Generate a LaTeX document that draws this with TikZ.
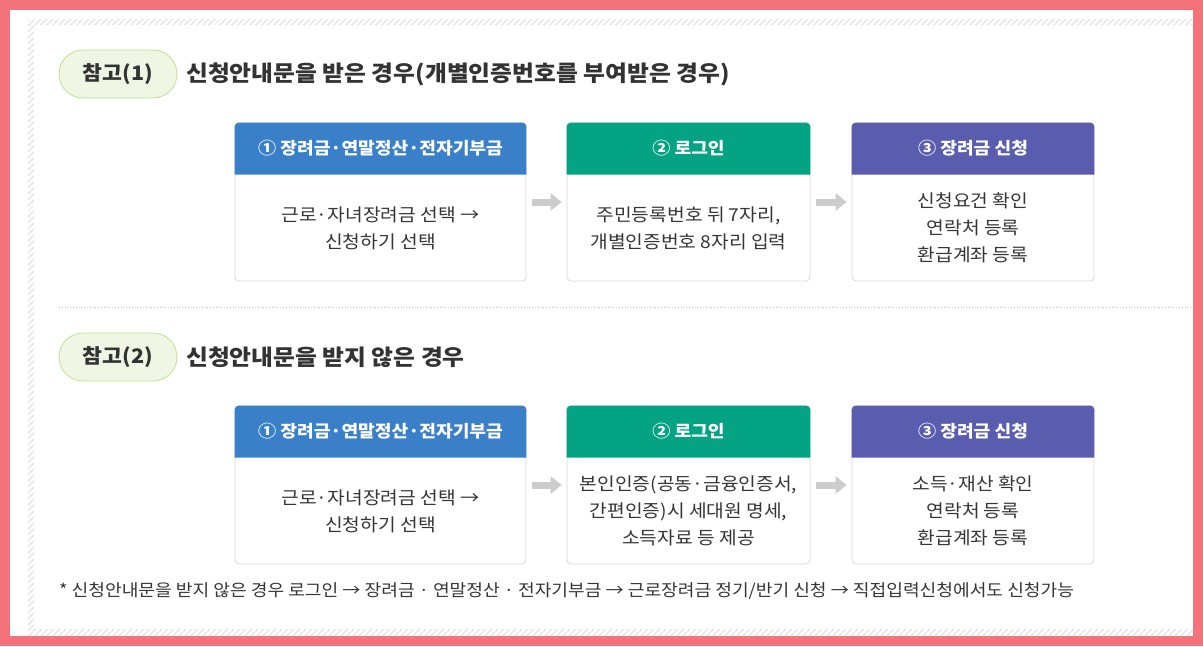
\documentclass[tikz,border=0pt]{standalone}
\usepackage{fontspec}
\setmainfont{Noto Sans CJK KR}[FakeStretch=1.08]
\usetikzlibrary{arrows.meta,patterns.meta}
\definecolor{framepink}{HTML}{F4737A}
\definecolor{hatchgray}{HTML}{DCE0E8}
\definecolor{pillfill}{HTML}{EFF6E4}
\definecolor{pillline}{HTML}{BFE38F}
\definecolor{hdblue}{HTML}{3A80C8}
\definecolor{hdgreen}{HTML}{04A383}
\definecolor{hdpurple}{HTML}{5A5DAE}
\definecolor{inkdark}{HTML}{333333}
\definecolor{inkbody}{HTML}{363636}
\definecolor{flowgray}{HTML}{CCCCCC}
\begin{document}
\begin{tikzpicture}[x=1pt,y=-1pt,
  pill/.style={draw=pillline,fill=pillfill,line width=0.8pt,rounded corners=24pt,
    minimum width=118pt,minimum height=48pt,text=inkdark,
    font=\fontsize{20}{24}\selectfont\bfseries},
  heading/.style={anchor=west,inner sep=0pt,text=inkdark,
    font=\fontsize{22}{26}\selectfont\bfseries},
  card/.style={draw=black!15,fill=white,rounded corners=4pt,line width=0.8pt},
  hdtext/.style={text=white,font=\fontsize{16.8}{20}\selectfont\bfseries},
  bodytext/.style={text=inkbody,align=center,font=\fontsize{17.8}{27}\selectfont},
  flow/.style={flowgray,line width=7pt,-{Triangle[length=11pt,width=17pt]},
    shorten <=6pt,shorten >=5pt}]
\useasboundingbox (0,0) rectangle (1203,646);
\fill[framepink] (0,0) rectangle (1203,646);
\fill[white] (10,10) rectangle (1193,636);
% hatched frame
\fill[pattern={Lines[angle=45,distance=4pt,line width=1.6pt]},pattern color=hatchgray]
  (28,19) rectangle (1193,25) (28,25) rectangle (34,629) (28,629) rectangle (1193,636);

% case 1
\node[pill] (p1) at (118,74) {참고(1)};
\node[heading] (t1) at (186,74) {신청안내문을 받은 경우(개별인증번호를 부여받은 경우)};
\node[card,minimum width=291pt,minimum height=158pt] (a1) at (380.5,202) {};
\node[card,minimum width=243pt,minimum height=158pt] (a2) at (688.5,202) {};
\node[card,minimum width=242pt,minimum height=158pt] (a3) at (973,202) {};

\draw[black!25,dotted,line width=0.8pt] (59,307) -- (1193,307);

% case 2
\node[pill] (p2) at (118,357) {참고(2)};
\node[heading] (t2) at (186,357) {신청안내문을 받지 않은 경우};
\node[card,minimum width=291pt,minimum height=158pt] (b1) at (380.5,485) {};
\node[card,minimum width=243pt,minimum height=158pt] (b2) at (688.5,485) {};
\node[card,minimum width=242pt,minimum height=158pt] (b3) at (973,485) {};

\foreach \b/\c in {a1/hdblue,a2/hdgreen,a3/hdpurple,b1/hdblue,b2/hdgreen,b3/hdpurple}
  \fill[\c] ([yshift=-52pt]\b.north west) [rounded corners=4pt] -- (\b.north west)
    -- (\b.north east) [sharp corners] -- ([yshift=-52pt]\b.north east) -- cycle;

\node[hdtext] (a1h) at ([yshift=-26pt]a1.north) {① 장려금·연말정산·전자기부금};
\node[hdtext] (a2h) at ([yshift=-26pt]a2.north) {② 로그인};
\node[hdtext] (a3h) at ([yshift=-26pt]a3.north) {③ 장려금 신청};
\node[bodytext] (a1t) at ([yshift=-26pt]a1.center) {근로·자녀장려금 선택 →\\신청하기 선택};
\node[bodytext] (a2t) at ([yshift=-26pt]a2.center) {주민등록번호 뒤 7자리,\\개별인증번호 8자리 입력};
\node[bodytext] (a3t) at ([yshift=-26pt]a3.center) {신청요건 확인\\연락처 등록\\환급계좌 등록};

\node[hdtext] (b1h) at ([yshift=-26pt]b1.north) {① 장려금·연말정산·전자기부금};
\node[hdtext] (b2h) at ([yshift=-26pt]b2.north) {② 로그인};
\node[hdtext] (b3h) at ([yshift=-26pt]b3.north) {③ 장려금 신청};
\node[bodytext] (b1t) at ([yshift=-26pt]b1.center) {근로·자녀장려금 선택 →\\신청하기 선택};
\node[bodytext] (b2t) at ([yshift=-26pt]b2.center) {본인인증(공동·금융인증서,\\간편인증)시 세대원 명세,\\소득자료 등 제공};
\node[bodytext] (b3t) at ([yshift=-26pt]b3.center) {소득·재산 확인\\연락처 등록\\환급계좌 등록};

\draw[flow] (a1) -- (a2);
\draw[flow] (a2) -- (a3);
\draw[flow] (b1) -- (b2);
\draw[flow] (b2) -- (b3);

\node[anchor=west,inner sep=0pt,text=inkbody,font=\fontsize{16.8}{20}\selectfont] (fn) at (59,591)
  {* 신청안내문을 받지 않은 경우 로그인 → 장려금 · 연말정산 · 전자기부금 → 근로장려금 정기/반기 신청 → 직접입력신청에서도 신청가능};
\end{tikzpicture}
\end{document}
